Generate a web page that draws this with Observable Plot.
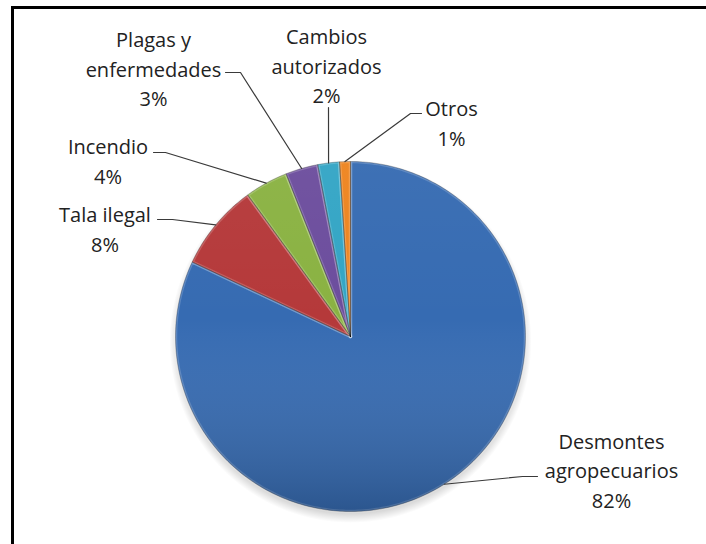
<!DOCTYPE html>
<html>
<head>
<meta charset="utf-8">
<script src="https://cdn.jsdelivr.net/npm/d3@7"></script>
<script src="https://cdn.jsdelivr.net/npm/@observablehq/plot@0.6"></script>
<style>
  html, body { margin: 0; padding: 0; background: #fff; }
  #wrap { position: relative; width: 706px; height: 544px; overflow: hidden; }
  #border { position: absolute; left: 11px; top: 6px; width: 720px; height: 600px;
            border-left: 3px solid #000; border-top: 3px solid #000; pointer-events: none; }
  #chart { position: absolute; left: 0; top: 0; }
</style>
</head>
<body>
<svg width="0" height="0" style="position:absolute">
  <defs>
    <linearGradient id="shade" x1="0" y1="0" x2="0" y2="1">
      <stop offset="0" stop-color="#fff" stop-opacity="0.04"/>
      <stop offset="0.45" stop-color="#fff" stop-opacity="0"/>
      <stop offset="1" stop-color="#000" stop-opacity="0.2"/>
    </linearGradient>
    <radialGradient id="shadow" cx="0.5" cy="0.5" r="0.5">
      <stop offset="0.9" stop-color="#000" stop-opacity="0.3"/>
      <stop offset="1" stop-color="#000" stop-opacity="0"/>
    </radialGradient>
  </defs>
</svg>
<div id="wrap">
  <div id="chart"></div>
  <div id="border"></div>
</div>
<script>
// ---- data ----
const categories = ["Desmontes agropecuarios", "Tala ilegal", "Incendio", "Plagas y enfermedades", "Cambios autorizados", "Otros"];
const shares = [82, 8, 4, 3, 2, 1];
const labelText = ["Desmontes\nagropecuarios", "Tala ilegal", "Incendio", "Plagas y\nenfermedades", "Cambios\nautorizados", "Otros"];
const colors = ["#366bb2", "#b5393a", "#8ab242", "#6c4d9d", "#33a5c5", "#ee841f"];

// ---- layout (pixels) ----
const CX = 350, CY = 336, R = 175;
const labelPos = [[611, 468.5], [104.5, 227], [107.5, 159], [153, 67], [326, 64], [451, 121]];
const leaderPts = [
  [[522, 476], [537, 476]],
  [[172, 219], [157, 219]],
  [[165, 152], [153, 152]],
  [[240, 72], [225, 72]],
  [[328, 107]],
  [[410, 113], [421, 113]]
];
const toX = px => (px - CX) / R;
const toY = py => (CY - py) / R;

// ---- geometry from data ----
const total = d3.sum(shares);
const slices = [];
const polys = [];
let cum = 0;
categories.forEach((name, i) => {
  const a0 = 2 * Math.PI * cum / total;
  cum += shares[i];
  const a1 = 2 * Math.PI * cum / total;
  const am = (a0 + a1) / 2;
  slices.push({name, share: shares[i], a0, a1, am});
  polys.push({name, x: 0, y: 0});
  const n = Math.max(2, Math.ceil((a1 - a0) / (Math.PI / 180)));
  for (let k = 0; k <= n; k++) {
    const a = a0 + (a1 - a0) * k / n;
    polys.push({name, x: Math.sin(a), y: Math.cos(a)});
  }
  polys.push({name, x: 0, y: 0});
});
const circle = d3.range(0, 361, 1).map(d => ({x: Math.sin(d * Math.PI / 180), y: Math.cos(d * Math.PI / 180)}));
const shadowCircle = circle.map(p => ({x: p.x * 1.035, y: p.y * 1.035 - 0.03}));

const leaders = [];
slices.forEach((s, i) => {
  leaders.push({name: s.name, x: Math.sin(s.am), y: Math.cos(s.am)});
  leaderPts[i].forEach(([px, py]) => leaders.push({name: s.name, x: toX(px), y: toY(py)}));
});
const labels = slices.map((s, i) => ({
  x: toX(labelPos[i][0]), y: toY(labelPos[i][1]),
  text: labelText[i] + "\n" + s.share + "%"
}));

const chart = Plot.plot({
  width: 706, height: 544, margin: 0,
  style: {background: "transparent", fontFamily: "'Open Sans', sans-serif"},
  x: {domain: [-1, 1], range: [CX - R, CX + R], axis: null},
  y: {domain: [-1, 1], range: [CY + R, CY - R], axis: null},
  color: {domain: categories, range: colors},
  marks: [
    Plot.line(shadowCircle, {x: "x", y: "y", fill: "url(#shadow)", stroke: "none"}),
    Plot.line(polys, {x: "x", y: "y", z: "name", fill: "name", stroke: "#ffffff", strokeOpacity: 0.18, strokeWidth: 3.5, strokeLinejoin: "round", curve: "linear"}),
    Plot.line(circle, {x: "x", y: "y", fill: "url(#shade)", stroke: "none"}),
    Plot.line(polys, {x: "x", y: "y", z: "name", fill: "none", stroke: "#000000", strokeOpacity: 0.3, strokeWidth: 0.8, curve: "linear"}),
    Plot.line(leaders, {x: "x", y: "y", z: "name", stroke: "#3a3a3a", strokeWidth: 1.2}),
    Plot.text(labels, {x: "x", y: "y", text: "text", fontSize: 20, lineHeight: 1.475, fill: "#222222", textAnchor: "middle", lineAnchor: "middle"})
  ]
});
document.getElementById("chart").appendChild(chart);
</script>
</body>
</html>
